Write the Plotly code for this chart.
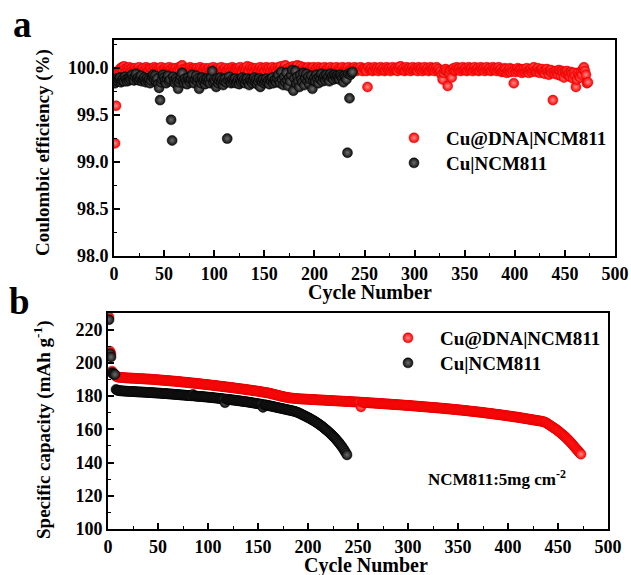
import plotly.graph_objects as go

# ---------------- data ----------------
# Coulombic efficiency (%) per cycle
ce_red = [
    99.20, 99.60, 99.92, 99.95, 99.97, 99.99, 100.00, 100.01, 99.98, 100.02, 99.99, 99.97, 100.00, 99.98, 100.01, 99.99, 99.97, 100.00, 99.98, 99.99,
    100.00, 99.98, 99.97, 99.99, 100.01, 99.98, 99.96, 99.99, 100.00, 99.97, 99.98, 100.01, 99.99, 99.97, 99.98, 100.00, 99.99, 99.96, 99.98, 100.01,
    99.99, 99.97, 100.00, 99.98, 99.99, 99.97, 100.01, 99.98, 99.96, 99.99, 100.00, 99.98, 99.97, 99.99, 100.01, 99.98, 99.99, 99.97, 100.00, 99.98,
    99.99, 100.00, 99.97, 99.98, 100.01, 99.99, 100.02, 100.03, 99.99, 99.97, 99.98, 100.00, 99.99, 99.97, 99.98, 100.01, 99.99, 99.98, 99.97, 100.00,
    99.98, 99.99, 100.00, 99.97, 99.98, 100.01, 99.99, 99.96, 99.98, 99.99, 100.00, 99.98, 99.97, 99.99, 100.00, 99.98, 99.97, 99.99, 100.01, 99.98,
    99.97, 99.99, 100.00, 99.98, 99.96, 99.99, 100.01, 99.98, 99.97, 99.99, 100.00, 99.97, 99.98, 99.99, 100.00, 99.98, 99.97, 100.01, 99.99, 99.98,
    99.97, 99.99, 100.00, 99.98, 99.99, 100.01, 99.98, 99.97, 99.99, 100.00, 99.98, 99.99, 100.02, 99.98, 99.97, 100.01, 99.99, 99.98, 100.00, 99.97,
    99.99, 100.00, 99.98, 99.97, 99.99, 100.01, 99.98, 99.99, 100.00, 99.97, 99.98, 100.01, 99.99, 99.98, 100.00, 99.97, 99.99, 100.01, 99.98, 99.99,
    100.00, 99.98, 99.97, 100.01, 99.99, 100.00, 100.02, 99.98, 99.97, 100.01, 100.03, 99.99, 99.98, 100.00, 99.97, 100.01, 99.99, 99.98, 100.02, 100.00,
    99.99, 100.01, 100.03, 99.98, 100.00, 100.02, 99.99, 99.97, 100.01, 99.98, 100.00, 99.99, 99.97, 100.01, 99.98, 100.00, 99.99, 99.98, 100.01, 99.97,
    99.99, 100.00, 99.98, 100.01, 99.99, 99.97, 100.00, 99.98, 99.99, 100.01, 99.98, 99.97, 100.00, 99.99, 99.98, 100.01, 99.97, 99.99, 100.00, 99.98,
    99.99, 100.01, 99.98, 99.97, 100.00, 99.99, 99.98, 100.01, 99.97, 99.99, 100.00, 99.98, 99.99, 100.01, 99.98, 99.97, 100.00, 99.99, 99.98, 100.01,
    99.99, 99.97, 100.00, 99.98, 99.99, 100.01, 99.98, 99.97, 100.00, 99.99, 99.98, 99.97, 99.80, 100.01, 99.98, 99.99, 100.00, 99.97, 99.98, 100.01,
    99.99, 99.98, 100.00, 99.97, 99.99, 100.01, 99.98, 99.99, 100.00, 99.97, 99.98, 100.01, 99.99, 99.98, 100.00, 99.97, 99.99, 100.01, 99.98, 99.99,
    100.00, 99.98, 99.97, 100.01, 99.99, 100.02, 99.98, 99.99, 100.00, 99.97, 99.98, 100.01, 99.99, 99.98, 100.00, 99.97, 99.99, 100.01, 99.98, 99.99,
    100.00, 99.98, 99.97, 100.01, 99.99, 99.98, 100.00, 99.97, 99.99, 100.01, 99.98, 99.99, 100.00, 99.97, 99.98, 100.01, 99.99, 99.98, 100.00, 99.97,
    99.99, 100.01, 99.98, 99.99, 99.96, 99.97, 99.93, 99.88, 99.95, 99.98, 99.99, 99.97, 99.81, 99.96, 99.94, 99.98, 99.90, 99.99, 100.00, 99.97,
    99.98, 100.01, 99.99, 99.98, 100.00, 99.97, 99.99, 100.01, 99.98, 99.99, 100.00, 99.97, 99.98, 100.01, 99.99, 99.98, 100.00, 99.97, 99.99, 100.01,
    99.98, 99.99, 100.00, 99.97, 99.98, 100.01, 99.99, 99.98, 100.00, 99.97, 99.99, 100.01, 99.98, 99.99, 100.00, 99.97, 99.98, 100.01, 99.99, 99.98,
    100.00, 99.97, 99.99, 100.01, 99.98, 99.99, 99.96, 99.97, 99.98, 100.00, 99.99, 99.95, 99.97, 99.98, 100.00, 99.96, 99.99, 99.97, 99.84, 99.98,
    99.96, 99.98, 100.00, 99.97, 99.99, 99.98, 99.95, 99.97, 99.99, 99.96, 99.98, 100.00, 99.97, 99.95, 99.98, 99.99, 99.96, 99.98, 100.01, 99.97,
    99.98, 99.96, 100.00, 99.97, 99.95, 99.98, 99.99, 99.96, 99.97, 99.94, 99.98, 99.99, 99.96, 99.93, 99.97, 99.98, 99.95, 99.66, 99.96, 99.94,
    99.97, 99.95, 99.93, 99.98, 99.96, 99.92, 99.97, 99.95, 99.90, 99.96, 99.94, 99.97, 99.93, 99.95, 99.91, 99.96, 99.94, 99.89, 99.95, 99.92,
    99.80, 99.88, 99.95, 99.92, 99.90, 99.96, 99.93, 99.99, 100.01, 99.97, 99.93, 99.84, 99.85,
]

ce_black = [
    99.84, 99.87, 99.89, 99.86, 99.88, 99.90, 99.85, 99.87, 99.89, 99.86, 99.91, 99.88, 99.86, 99.89, 99.87, 99.90, 99.88, 99.93, 99.89, 99.87,
    99.91, 99.94, 99.88, 99.90, 99.87, 99.89, 99.92, 99.86, 99.88, 99.90, 99.87, 99.85, 99.89, 99.86, 99.88, 99.84, 99.87, 99.91, 99.93, 99.88,
    99.92, 99.86, 99.89, 99.83, 99.79, 99.66, 99.85, 99.88, 99.93, 99.90, 99.87, 99.84, 99.89, 99.92, 99.86, 99.88, 99.45, 99.23, 99.91, 99.87,
    99.84, 99.89, 99.86, 99.78, 99.85, 99.88, 99.91, 99.95, 99.87, 99.84, 99.89, 99.86, 99.83, 99.90, 99.87, 99.85, 99.88, 99.93, 99.86, 99.84,
    99.88, 99.92, 99.86, 99.89, 99.78, 99.87, 99.84, 99.90, 99.86, 99.88, 99.83, 99.87, 99.89, 99.85, 99.88, 99.84, 99.90, 99.97, 99.85, 99.88,
    99.86, 99.80, 99.89, 99.84, 99.87, 99.90, 99.85, 99.88, 99.82, 99.86, 99.89, 99.85, 99.25, 99.87, 99.91, 99.86, 99.84, 99.88, 99.85, 99.87,
    99.89, 99.84, 99.86, 99.88, 99.83, 99.87, 99.85, 99.90, 99.86, 99.88, 99.84, 99.87, 99.89, 99.85, 99.82, 99.88, 99.86, 99.84, 99.87, 99.90,
    99.85, 99.88, 99.83, 99.86, 99.89, 99.80, 99.87, 99.85, 99.88, 99.84, 99.86, 99.89, 99.85, 99.87, 99.83, 99.88, 99.86, 99.90, 99.84, 99.87,
    99.88, 99.85, 99.89, 99.93, 99.86, 99.84, 99.96, 99.88, 99.82, 99.91, 99.85, 99.95, 99.87, 99.81, 99.90, 99.86, 99.93, 99.98, 99.76, 99.89,
    99.97, 99.84, 99.91, 99.86, 99.80, 99.93, 99.88, 99.85, 99.95, 99.82, 99.89, 99.94, 99.86, 99.91, 99.83, 99.88, 99.92, 99.78, 99.87, 99.90,
    99.86, 99.93, 99.89, 99.84, 99.91, 99.88, 99.94, 99.86, 99.90, 99.92, 99.87, 99.93, 99.89, 99.91, 99.86, 99.94, 99.90, 99.92, 99.88, 99.93,
    99.91, 99.89, 99.92, 99.90, 99.88, 99.93, 99.91, 99.89, 99.85, 99.92, 99.90, 99.88, 99.10, 99.94, 99.68, 99.93, 99.95, 99.96,
]

# Specific capacity (mAh g-1) per cycle
cap_red = [
    227.5, 207.0, 205.5, 195.0, 194.0, 193.2, 192.4, 191.9, 191.6, 191.4,
    191.3, 191.3, 191.2, 191.2, 191.1, 191.1, 191.0, 191.0, 190.9, 190.9,
    190.9, 190.8, 190.8, 190.8, 190.7, 190.7, 190.7, 190.6, 190.6, 190.6,
    190.5, 190.5, 190.5, 190.4, 190.4, 190.4, 190.3, 190.3, 190.3, 190.2,
    190.2, 190.2, 190.1, 190.1, 190.0, 190.0, 189.9, 189.9, 189.8, 189.8,
    189.7, 189.7, 189.6, 189.6, 189.5, 189.5, 189.4, 189.4, 189.3, 189.3,
    189.2, 189.2, 189.1, 189.1, 189.0, 189.0, 188.9, 188.9, 188.8, 188.7,
    188.7, 188.6, 188.6, 188.5, 188.4, 188.4, 188.3, 188.3, 188.2, 188.1,
    188.1, 188.0, 187.9, 187.9, 187.8, 187.8, 187.7, 187.6, 187.6, 187.5,
    187.4, 187.4, 187.3, 187.2, 187.2, 187.1, 187.0, 187.0, 186.9, 186.8,
    186.8, 186.7, 186.6, 186.5, 186.5, 186.4, 186.3, 186.3, 186.2, 186.1,
    186.0, 186.0, 185.9, 185.8, 185.7, 185.7, 185.6, 185.5, 185.4, 185.4,
    185.3, 185.2, 185.1, 185.1, 185.0, 184.9, 184.8, 184.7, 184.7, 184.6,
    184.5, 184.4, 184.3, 184.3, 184.2, 184.1, 184.0, 183.9, 183.8, 183.8,
    183.7, 183.6, 183.5, 183.4, 183.3, 183.2, 183.2, 183.1, 183.0, 182.9,
    182.8, 182.7, 182.6, 182.5, 182.4, 182.3, 182.2, 182.1, 182.0, 181.9,
    181.8, 181.6, 181.5, 181.3, 181.2, 181.0, 180.9, 180.7, 180.6, 180.4,
    180.3, 180.1, 180.0, 179.8, 179.7, 179.6, 179.4, 179.3, 179.2, 179.1,
    179.0, 178.9, 178.8, 178.8, 178.7, 178.6, 178.6, 178.5, 178.5, 178.4,
    178.4, 178.3, 178.3, 178.3, 178.2, 178.2, 178.2, 178.1, 178.1, 178.1,
    178.0, 178.0, 178.0, 177.9, 177.9, 177.9, 177.8, 177.8, 177.8, 177.7,
    177.7, 177.7, 177.6, 177.6, 177.6, 177.5, 177.5, 177.5, 177.4, 177.4,
    177.4, 177.3, 177.3, 177.3, 177.2, 177.2, 177.2, 177.1, 177.1, 177.1,
    177.0, 177.0, 177.0, 176.9, 176.9, 176.9, 176.8, 176.8, 176.8, 176.7,
    176.7, 176.7, 176.6, 176.6, 176.6, 176.5, 176.5, 176.5, 176.4, 176.4,
    176.4, 176.3, 173.5, 176.3, 176.2, 176.2, 176.1, 176.1, 176.1, 176.0,
    176.0, 175.9, 175.9, 175.9, 175.8, 175.8, 175.7, 175.7, 175.7, 175.6,
    175.6, 175.5, 175.5, 175.5, 175.4, 175.4, 175.3, 175.3, 175.3, 175.2,
    175.2, 175.1, 175.1, 175.0, 175.0, 175.0, 174.9, 174.9, 174.8, 174.8,
    174.8, 174.7, 174.7, 174.6, 174.6, 174.5, 174.5, 174.4, 174.4, 174.4,
    174.3, 174.3, 174.2, 174.2, 174.1, 174.1, 174.0, 174.0, 173.9, 173.9,
    173.8, 173.8, 173.7, 173.7, 173.6, 173.6, 173.5, 173.5, 173.4, 173.4,
    173.3, 173.3, 173.2, 173.2, 173.1, 173.1, 173.0, 173.0, 172.9, 172.9,
    172.8, 172.8, 172.7, 172.7, 172.6, 172.6, 172.5, 172.4, 172.4, 172.3,
    172.3, 172.2, 172.2, 172.1, 172.0, 172.0, 171.9, 171.9, 171.8, 171.7,
    171.7, 171.6, 171.6, 171.5, 171.4, 171.4, 171.3, 171.2, 171.2, 171.1,
    171.0, 171.0, 170.9, 170.8, 170.8, 170.7, 170.6, 170.6, 170.5, 170.4,
    170.4, 170.3, 170.2, 170.1, 170.1, 170.0, 169.9, 169.8, 169.8, 169.7,
    169.6, 169.5, 169.5, 169.4, 169.3, 169.2, 169.1, 169.1, 169.0, 168.9,
    168.8, 168.7, 168.7, 168.6, 168.5, 168.4, 168.3, 168.2, 168.2, 168.1,
    168.0, 167.9, 167.8, 167.7, 167.6, 167.5, 167.5, 167.4, 167.3, 167.2,
    167.1, 167.0, 166.9, 166.8, 166.7, 166.6, 166.5, 166.4, 166.3, 166.2,
    166.1, 166.0, 165.9, 165.8, 165.7, 165.6, 165.5, 165.4, 165.3, 165.2,
    165.1, 165.0, 164.9, 164.8, 164.6, 164.5, 164.3, 164.0, 163.6, 163.2,
    162.8, 162.4, 162.0, 161.6, 161.2, 160.8, 160.4, 160.0, 159.6, 159.1,
    158.6, 158.1, 157.6, 157.1, 156.6, 156.1, 155.6, 155.0, 154.4, 153.8,
    153.2, 152.6, 151.9, 151.2, 150.5, 149.8, 149.1, 148.4, 147.7, 147.0,
    146.3, 145.6, 145.0,
]

cap_black = [
    226.0, 205.5, 203.5, 194.0, 193.5, 193.2, 193.0, 184.0, 183.6, 183.4,
    183.3, 183.2, 183.2, 183.1, 183.1, 183.0, 183.0, 182.9, 182.9, 182.9,
    182.8, 182.8, 182.8, 182.7, 182.7, 182.7, 182.6, 182.6, 182.6, 182.5,
    182.5, 182.5, 182.4, 182.4, 182.4, 182.3, 182.3, 182.3, 182.2, 182.2,
    182.2, 182.1, 182.1, 182.0, 182.0, 182.0, 181.9, 181.9, 181.8, 181.8,
    181.8, 181.7, 181.7, 181.6, 181.6, 181.5, 181.5, 181.5, 181.4, 181.4,
    181.3, 181.3, 181.2, 181.2, 181.1, 181.1, 181.0, 181.0, 180.9, 180.9,
    180.8, 180.8, 180.7, 180.7, 180.6, 180.6, 180.5, 180.5, 180.4, 180.4,
    180.3, 180.3, 180.2, 180.2, 181.0, 180.1, 180.0, 180.0, 179.9, 179.9,
    179.8, 179.8, 179.7, 179.7, 179.6, 179.6, 179.5, 179.5, 179.4, 179.3,
    179.3, 179.2, 179.2, 179.1, 179.0, 179.0, 178.9, 178.8, 178.8, 178.7,
    178.6, 178.6, 178.5, 178.4, 178.4, 178.3, 176.0, 178.2, 178.1, 178.0,
    177.9, 177.9, 177.8, 177.7, 177.6, 177.6, 177.5, 177.4, 177.3, 177.2,
    177.2, 177.1, 177.0, 176.9, 176.8, 176.7, 176.7, 176.6, 176.5, 176.4,
    176.3, 176.2, 176.1, 176.0, 175.9, 175.8, 175.7, 175.6, 175.5, 175.4,
    175.3, 175.2, 175.1, 175.0, 173.2, 174.8, 174.7, 174.6, 174.5, 174.4,
    174.2, 174.1, 174.0, 173.8, 173.7, 173.6, 173.4, 173.3, 173.2, 173.0,
    172.9, 172.8, 172.6, 172.5, 172.4, 172.2, 172.1, 172.0, 171.8, 171.7,
    171.6, 171.4, 171.3, 171.2, 171.0, 170.9, 170.7, 170.5, 170.3, 170.1,
    169.8, 169.5, 169.2, 168.9, 168.6, 168.3, 168.0, 167.7, 167.4, 167.1,
    166.8, 166.5, 166.1, 165.8, 165.4, 165.1, 164.7, 164.3, 163.9, 163.5,
    163.1, 162.7, 162.2, 161.8, 161.3, 160.8, 160.3, 159.8, 159.3, 158.8,
    158.2, 157.7, 157.1, 156.5, 155.9, 155.3, 154.7, 154.0, 153.3, 152.6,
    151.9, 151.1, 150.3, 149.5, 148.6, 147.7, 146.7, 145.7, 144.6,
]

name_red = "Cu@DNA|NCM811"
name_black = "Cu|NCM811"

cyc_ce_red = list(range(1, len(ce_red) + 1))
cyc_ce_black = list(range(1, len(ce_black) + 1))
cyc_cap_red = list(range(1, len(cap_red) + 1))
cyc_cap_black = list(range(1, len(cap_black) + 1))

# ---------------- styling ----------------
W, H = 631, 575
FONT = "Liberation Serif, Times New Roman, serif"


def px(x):
    return x / W


def py(y):
    return 1 - y / H


red_marker = dict(size=10, color="#ff0000", line=dict(color="#e00000", width=0.5),
                  gradient=dict(type="radial", color="#ff8c8c"))
black_marker = dict(size=10, color="#101010", line=dict(color="#000000", width=0.5),
                    gradient=dict(type="radial", color="#6e6e6e"))

fig = go.Figure()
fig.add_trace(go.Scatter(x=cyc_ce_red, y=ce_red, mode="markers", name=name_red,
                         marker=red_marker, xaxis="x", yaxis="y", legend="legend"))
fig.add_trace(go.Scatter(x=cyc_ce_black, y=ce_black, mode="markers", name=name_black,
                         marker=black_marker, xaxis="x", yaxis="y", legend="legend3"))
fig.add_trace(go.Scatter(x=cyc_cap_red, y=cap_red, mode="markers", name=name_red,
                         marker=red_marker, xaxis="x2", yaxis="y2", legend="legend2"))
fig.add_trace(go.Scatter(x=cyc_cap_black, y=cap_black, mode="markers", name=name_black,
                         marker=black_marker, xaxis="x2", yaxis="y2", legend="legend4"))

tickfont = dict(family=FONT, size=18, color="black", weight="bold")
common = dict(showline=True, linewidth=2, linecolor="black", mirror=True,
              showgrid=False, zeroline=False, ticks="inside", ticklen=6,
              tickwidth=1.5, tickcolor="black", tickfont=tickfont, automargin=False)

legfont = dict(family=FONT, size=19, color="black", weight="bold")


def leg(x, y):
    return dict(x=px(x), y=py(y), xanchor="left", yanchor="top",
                bgcolor="rgba(0,0,0,0)", borderwidth=0, font=legfont,
                itemsizing="trace", itemwidth=54)


fig.update_layout(
    width=W, height=H,
    margin=dict(l=0, r=0, t=0, b=0),
    paper_bgcolor="white", plot_bgcolor="white",
    xaxis=dict(domain=[px(114), px(615)], anchor="y", range=[0, 500], tick0=0, dtick=50,
               minor=dict(ticks="inside", ticklen=3, dtick=25, tickcolor="black", tickwidth=1.2),
               **common),
    yaxis=dict(domain=[py(256), py(40)], anchor="x", range=[98, 100.3], tick0=98, dtick=0.5,
               tickformat=".1f",
               minor=dict(ticks="inside", ticklen=3, dtick=0.25, tickcolor="black", tickwidth=1.2),
               **common),
    xaxis2=dict(domain=[px(108), px(608)], anchor="y2", range=[0, 500], tick0=0, dtick=50,
                minor=dict(ticks="inside", ticklen=3, dtick=25, tickcolor="black", tickwidth=1.2),
                **common),
    yaxis2=dict(domain=[py(529), py(313)], anchor="x2", range=[100, 230], tick0=100, dtick=20,
                minor=dict(ticks="inside", ticklen=3, dtick=10, tickcolor="black", tickwidth=1.2),
                **common),
    legend=leg(382, 119),
    legend3=leg(382, 144),
    legend2=leg(376, 319),
    legend4=leg(376, 344),
    showlegend=True,
)

ann_font = dict(family=FONT, color="black", weight="bold")
annotations = [
    dict(text="a", x=px(22), y=py(25), font=dict(size=37, **ann_font)),
    dict(text="b", x=px(19), y=py(301), font=dict(size=37, **ann_font)),
    dict(text="Cycle Number", x=px(370), y=py(292), font=dict(size=20, **ann_font)),
    dict(text="Cycle Number", x=px(366), y=py(565), font=dict(size=20, **ann_font)),
    dict(text="Coulombic efficiency (%)", x=px(43), y=py(153), textangle=-90,
         font=dict(size=19, **ann_font)),
    dict(text="Specific capacity (mAh g<sup>-1</sup>)", x=px(42), y=py(430), textangle=-90,
         font=dict(size=19, **ann_font)),
    dict(text="NCM811:5mg cm<sup>-2</sup>", x=px(497), y=py(478), font=dict(size=17, **ann_font)),
]
for a in annotations:
    a.update(xref="paper", yref="paper", xanchor="center", yanchor="middle", showarrow=False)
fig.update_layout(annotations=annotations)

fig.write_html("out.html")
